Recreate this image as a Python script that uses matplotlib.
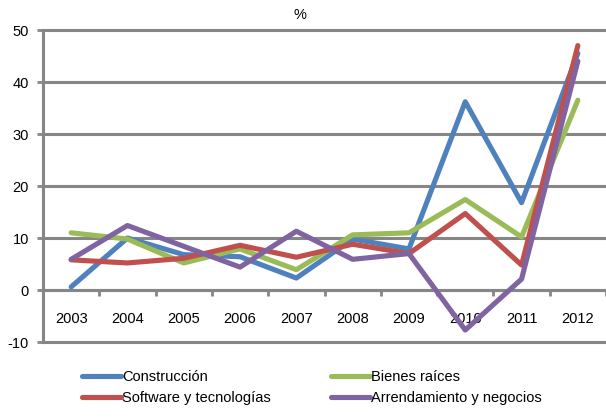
import numpy as np
import matplotlib.pyplot as plt
from matplotlib.ticker import FixedLocator

plt.rcParams['font.family'] = ['Liberation Sans', 'DejaVu Sans']
plt.rcParams['axes.unicode_minus'] = False

years = ['2003', '2004', '2005', '2006', '2007', '2008', '2009', '2010', '2011', '2012']
construccion = [0.6, 10.0, 6.8, 6.4, 2.3, 9.8, 7.9, 36.2, 16.8, 45.5]
bienes = [11.0, 9.8, 5.2, 7.9, 3.9, 10.6, 11.0, 17.4, 10.2, 36.5]
software = [5.8, 5.2, 6.1, 8.6, 6.3, 8.8, 7.0, 14.7, 4.8, 47.0]
arrendamiento = [5.9, 12.4, 8.4, 4.4, 11.3, 5.9, 7.0, -7.7, 2.1, 44.0]

# drawing order as in the original (purple on top)
series = {
    'Construcción': (construccion, '#4F81BD'),
    'Bienes raíces': (bienes, '#9BBB59'),
    'Software y tecnologías': (software, '#C0504D'),
    'Arrendamiento y negocios': (arrendamiento, '#8064A2'),
}

grid_color = '#868686'

fig = plt.figure(figsize=(6.06, 4.2), dpi=100)
ax = fig.add_axes([43 / 606, 78 / 420, 1 - 43 / 606, 312 / 420])

x = np.arange(len(years))
lines = {}
for i, (name, (vals, color)) in enumerate(series.items()):
    ln, = ax.plot(x, vals, color=color, lw=3.7, solid_joinstyle='round',
                  solid_capstyle='round', label=name, zorder=3 + i)
    lines[name] = ln

ax.set_xlim(-0.5, len(years) - 0.5)
ax.set_ylim(-10, 50)
ax.set_yticks(np.arange(-10, 51, 10))
ax.yaxis.grid(True, color=grid_color, lw=2.2, zorder=0)
for gl in ax.yaxis.get_gridlines():
    gl.set_clip_on(False)

for side in ['top', 'right']:
    ax.spines[side].set_visible(False)
ax.spines['left'].set_color(grid_color)
ax.spines['left'].set_linewidth(2.2)
ax.spines['bottom'].set_position(('data', 0))
ax.spines['bottom'].set_color(grid_color)
ax.spines['bottom'].set_linewidth(2.2)

ax.set_xticks(x)
ax.set_xticklabels(years)
ax.xaxis.set_minor_locator(FixedLocator(np.arange(0.5, len(years), 1)))
ax.tick_params(axis='x', which='major', length=0, pad=16, labelsize=10.5)
ax.tick_params(axis='x', which='minor', length=4, width=2, color=grid_color, direction='out')
ax.tick_params(axis='y', length=4, width=2, color=grid_color, labelsize=10.5, pad=6)

fig.text(0.495, 0.965, '%', ha='center', va='center', fontsize=10.5)

order = ['Construcción', 'Software y tecnologías', 'Bienes raíces', 'Arrendamiento y negocios']
fig.legend(handles=[lines[n] for n in order], ncol=2, loc='upper left',
           bbox_to_anchor=(82 / 606, 1 - 370 / 420), borderaxespad=0, borderpad=0,
           frameon=False, fontsize=10.5, handlelength=2.7, handletextpad=0.05,
           columnspacing=4.1, labelspacing=0.5)

fig.savefig('out.png', dpi=100)
